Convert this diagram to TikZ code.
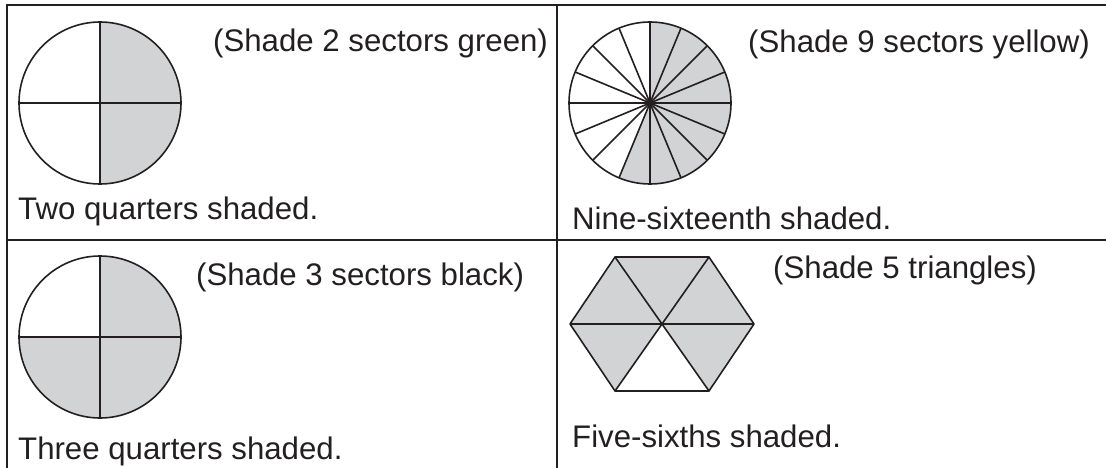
\documentclass[tikz,border=0pt]{standalone}
\usepackage{fontspec}
\setmainfont{Liberation Sans}
\definecolor{ink}{RGB}{35,31,32}
\definecolor{shade}{RGB}{209,211,212}
\begin{document}
\begin{tikzpicture}[x=1pt,y=-1pt,
  grid/.style={draw=ink,line width=2.2pt},
  outl/.style={draw=ink,line width=1.6pt,line join=round},
  fillsh/.style={fill=shade},
  lbl/.style={anchor=base west,inner sep=0pt,text=ink,font=\fontsize{31.2}{36}\selectfont}]
\useasboundingbox (0,0) rectangle (1106,468);
% table
\draw[grid] (7,468) -- (7,5) -- (1106,5);
\draw[grid] (7,240) -- (1106,240);
\draw[grid] (557,5) -- (557,468);
% (y axis points down: angles below are mirrored)
% circle 1: two quarters
\begin{scope}[shift={(100,103)}]
  \fill[fillsh] (0,0) -- (0,-81) arc[start angle=-90,end angle=90,radius=81] -- cycle;
  \draw[outl] (0,0) circle[radius=81];
  \draw[outl] (-81,0) -- (81,0) (0,-81) -- (0,81);
\end{scope}
% circle 2: sixteen sectors
\begin{scope}[shift={(650,103)}]
  \fill[fillsh] (0,0) -- (0,-81) arc[start angle=-90,end angle=112.5,radius=81] -- cycle;
  \draw[outl] (0,0) circle[radius=81];
  \foreach \a in {0,22.5,...,157.5} \draw[outl] (\a:81) -- (\a+180:81);
\end{scope}
% circle 3: three quarters
\begin{scope}[shift={(100,337)}]
  \fill[fillsh] (0,0) -- (0,-81) arc[start angle=-90,end angle=180,radius=81] -- cycle;
  \draw[outl] (0,0) circle[radius=81];
  \draw[outl] (-81,0) -- (81,0) (0,-81) -- (0,81);
\end{scope}
% hexagon
\coordinate (h0) at (662,324);
\coordinate (h1) at (615,257);
\coordinate (h2) at (709,257);
\coordinate (h3) at (754,324);
\coordinate (h4) at (709,391);
\coordinate (h5) at (615,391);
\coordinate (h6) at (570,324);
\fill[fillsh] (h1) -- (h2) -- (h3) -- (h4) -- (h0) -- (h5) -- (h6) -- cycle;
\draw[outl] (h1) -- (h2) -- (h3) -- (h4) -- (h5) -- (h6) -- cycle;
\draw[outl] (h1) -- (h4) (h2) -- (h5) (h3) -- (h6);
% labels
\node[lbl] (t1) at (213,52) {(Shade 2 sectors green)};
\node[lbl] (t2) at (18,219) {Two quarters shaded.};
\node[lbl] (t3) at (748,53) {(Shade 9 sectors yellow)};
\node[lbl] (t4) at (572,229) {Nine-sixteenth shaded.};
\node[lbl] (t5) at (196,285) {(Shade 3 sectors black)};
\node[lbl] (t6) at (18,459) {Three quarters shaded.};
\node[lbl] (t7) at (773,278) {(Shade 5 triangles)};
\node[lbl] (t8) at (572,447) {Five-sixths shaded.};
\end{tikzpicture}
\end{document}
